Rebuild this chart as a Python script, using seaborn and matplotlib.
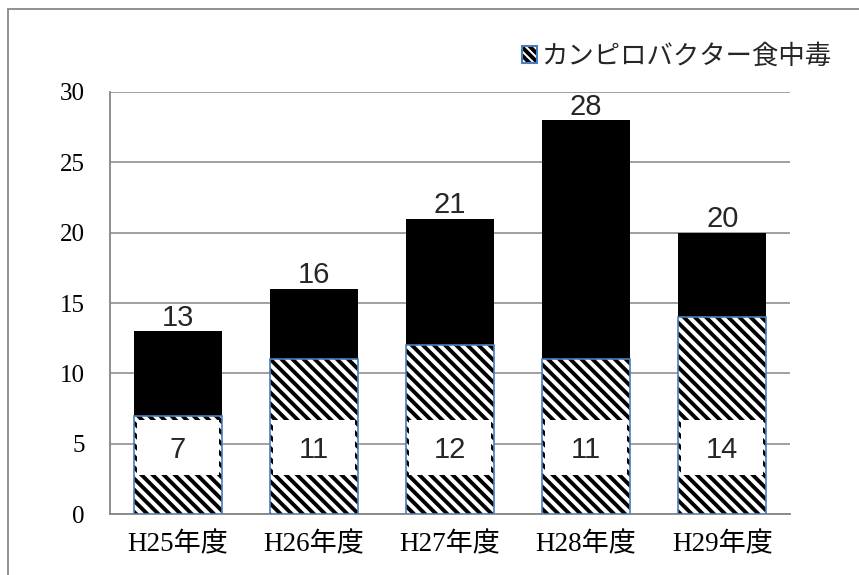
import matplotlib
matplotlib.use("Agg")
import matplotlib.pyplot as plt
import seaborn as sns
import pandas as pd
from matplotlib.patches import Patch, Rectangle

years = ["H25年度", "H26年度", "H27年度", "H28年度", "H29年度"]
campylo = [7, 11, 12, 11, 14]
total = [13, 16, 21, 28, 20]

df = pd.DataFrame({"year": years, "campylo": campylo, "total": total})

sns.set_theme(style="white")
plt.rcParams["hatch.linewidth"] = 2.8
serif = ["Liberation Serif", "Noto Sans CJK JP"]
sans = ["Liberation Sans", "DejaVu Sans"]
HATCH = "\\\\\\"
BLUE = "#4a7ebb"

fig = plt.figure(figsize=(8.59, 5.75), dpi=100)
ax = fig.add_axes([0.128, 0.106, 0.792, 0.734])

bar_w = 0.65
# total (black) bars first, the hatched part goes on top
sns.barplot(data=df, x="year", y="total", color="black", width=bar_w,
            saturation=1, ax=ax, zorder=2)
n = len(ax.patches)
sns.barplot(data=df, x="year", y="campylo", color="white", width=bar_w,
            saturation=1, ax=ax, zorder=3)
for p in ax.patches[:n]:
    p.set_edgecolor("black")
    p.set_linewidth(0)
for p in ax.patches[n:]:
    p.set_facecolor("white")
    p.set_edgecolor("black")
    p.set_hatch(HATCH)
    p.set_linewidth(0)
    # blue outline drawn separately so the hatch stays black
    ax.add_patch(Rectangle((p.get_x(), 0), p.get_width(), p.get_height(),
                           facecolor="none", edgecolor=BLUE, lw=1.2, zorder=4))

ax.set_ylim(0, 30)
ax.set_xlim(-0.5, 4.5)
ax.set_yticks(range(0, 31, 5))
ax.grid(axis="y", color="#868686", lw=1.1, zorder=0)
ax.set_axisbelow(True)
sns.despine(ax=ax)
for s in ["left", "bottom"]:
    ax.spines[s].set_color("#868686")
    ax.spines[s].set_linewidth(1.3)
ax.tick_params(length=0)
ax.tick_params(axis="y", pad=18)
ax.tick_params(axis="x", pad=13)
ax.set_xlabel("")
ax.set_ylabel("")
for lab in ax.get_xticklabels():
    lab.set_family(serif)
    lab.set_fontsize(19.5)
    lab.set_color("black")
for lab in ax.get_yticklabels():
    lab.set_family(serif)
    lab.set_fontsize(18)
    lab.set_color("black")

# value labels
for i, (c, t) in enumerate(zip(campylo, total)):
    ax.annotate(str(t), (i, t), xytext=(0, 4), textcoords="offset points",
                ha="center", va="baseline", fontsize=21, family=sans, zorder=6)
    ax.add_patch(Rectangle((i - 0.3, 2.75), 0.6, 3.95, facecolor="white",
                           edgecolor="none", zorder=5))
    ax.text(i, 4.55, str(c), ha="center", va="center", fontsize=21,
            family=sans, zorder=6)

h_hatch = Patch(facecolor="white", edgecolor="black", hatch="\\\\\\\\", lw=0)
h_edge = Patch(facecolor="none", edgecolor=BLUE, lw=1.5)
fig.legend([(h_hatch, h_edge)], ["カンピロバクター食中毒"], loc="center right",
           bbox_to_anchor=(0.968, 0.902), frameon=False,
           prop={"family": serif, "size": 19}, handlelength=0.6,
           handleheight=0.6, handletextpad=0.15, borderpad=0, borderaxespad=0)

# outer frame of the chart area
fig.add_artist(Rectangle((8 / 859, -0.1), 1.1, 1 - 9 / 575 + 0.1,
                         transform=fig.transFigure, facecolor="none",
                         edgecolor="#888888", lw=1.3))

fig.savefig("out.png", dpi=100)
